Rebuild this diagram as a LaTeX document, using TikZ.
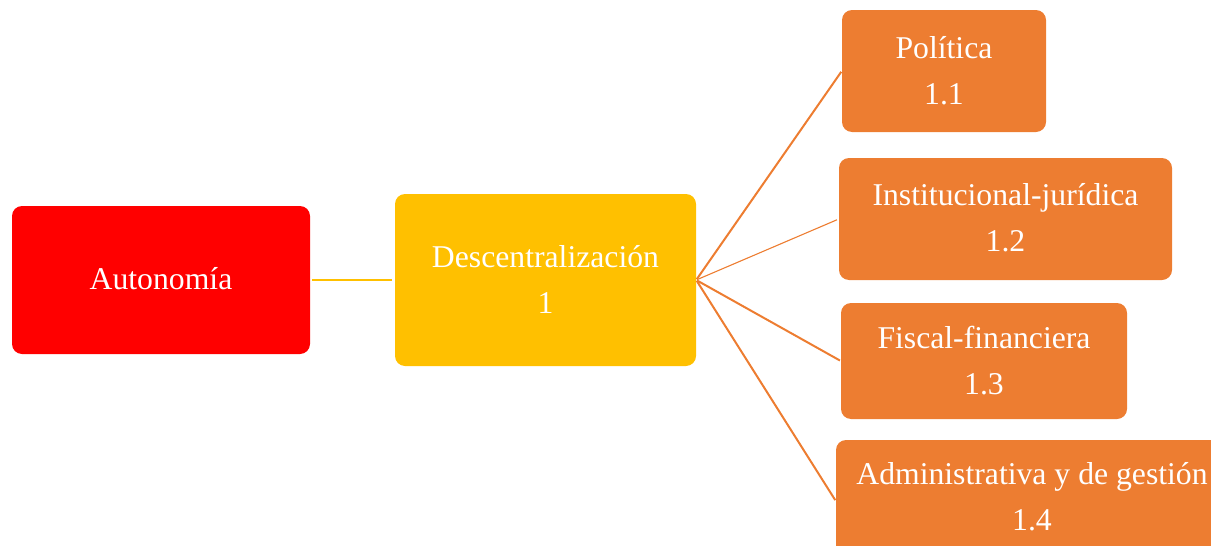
\documentclass[tikz,border=0pt]{standalone}
\usepackage{fontspec}
\setmainfont{Liberation Serif}
\definecolor{cRed}{HTML}{FF0000}
\definecolor{cYel}{HTML}{FFC000}
\definecolor{cOra}{HTML}{ED7D31}
\begin{document}
\begin{tikzpicture}[x=1pt,y=-1pt,
  box/.style={rectangle, rounded corners=10pt, inner sep=0pt, draw=none},
  txt/.style={text=white, inner sep=0pt, anchor=base, font=\fontsize{31.7}{38}\selectfont},
  link/.style={draw=cOra, line width=2pt, shorten <=1pt, shorten >=1pt},
  thin link/.style={draw=cOra, line width=1.1pt, shorten <=1pt, shorten >=2pt}]
\useasboundingbox (0,0) rectangle (1211,546);
\clip (0,0) rectangle (1211,546);
% boxes
\node[box, fill=cRed, minimum width=298pt, minimum height=148pt] (aut) at (161,280) {};
\node[box, fill=cYel, minimum width=301pt, minimum height=172pt] (des) at (545.5,280) {};
\node[box, fill=cOra, minimum width=204pt, minimum height=122pt] (pol) at (944,71) {};
\node[box, fill=cOra, minimum width=333pt, minimum height=122pt] (ins) at (1005.5,219) {};
\node[box, fill=cOra, minimum width=286pt, minimum height=116pt] (fis) at (984,361) {};
\node[box, fill=cOra, minimum width=392pt, minimum height=122pt] (adm) at (1032,501) {};
% texts
\node[txt] (autt) at (161,289) {Autonomía};
\node[txt] (dest1) at (545.5,267) {Descentralización};
\node[txt] (dest2) at (545.5,313) {1};
\node[txt] (polt1) at (944,58) {Política};
\node[txt] (polt2) at (944,104) {1.1};
\node[txt] (inst1) at (1005.5,205) {Institucional-jurídica};
\node[txt] (inst2) at (1005.5,251) {1.2};
\node[txt] (fist1) at (984,348) {Fiscal-financiera};
\node[txt] (fist2) at (984,394) {1.3};
\node[txt] (admt1) at (1032,484) {Administrativa y de gestión};
\node[txt] (admt2) at (1032,530) {1.4};
% connectors
\draw[draw=cYel, line width=2pt, shorten <=2pt, shorten >=3pt] (aut.east) -- (des.west);
\draw[link] (des.east) -- (pol.west);
\draw[thin link] (des.east) -- (ins.west);
\draw[link] (des.east) -- (fis.west);
\draw[link] (des.east) -- (adm.west);
\end{tikzpicture}
\end{document}
